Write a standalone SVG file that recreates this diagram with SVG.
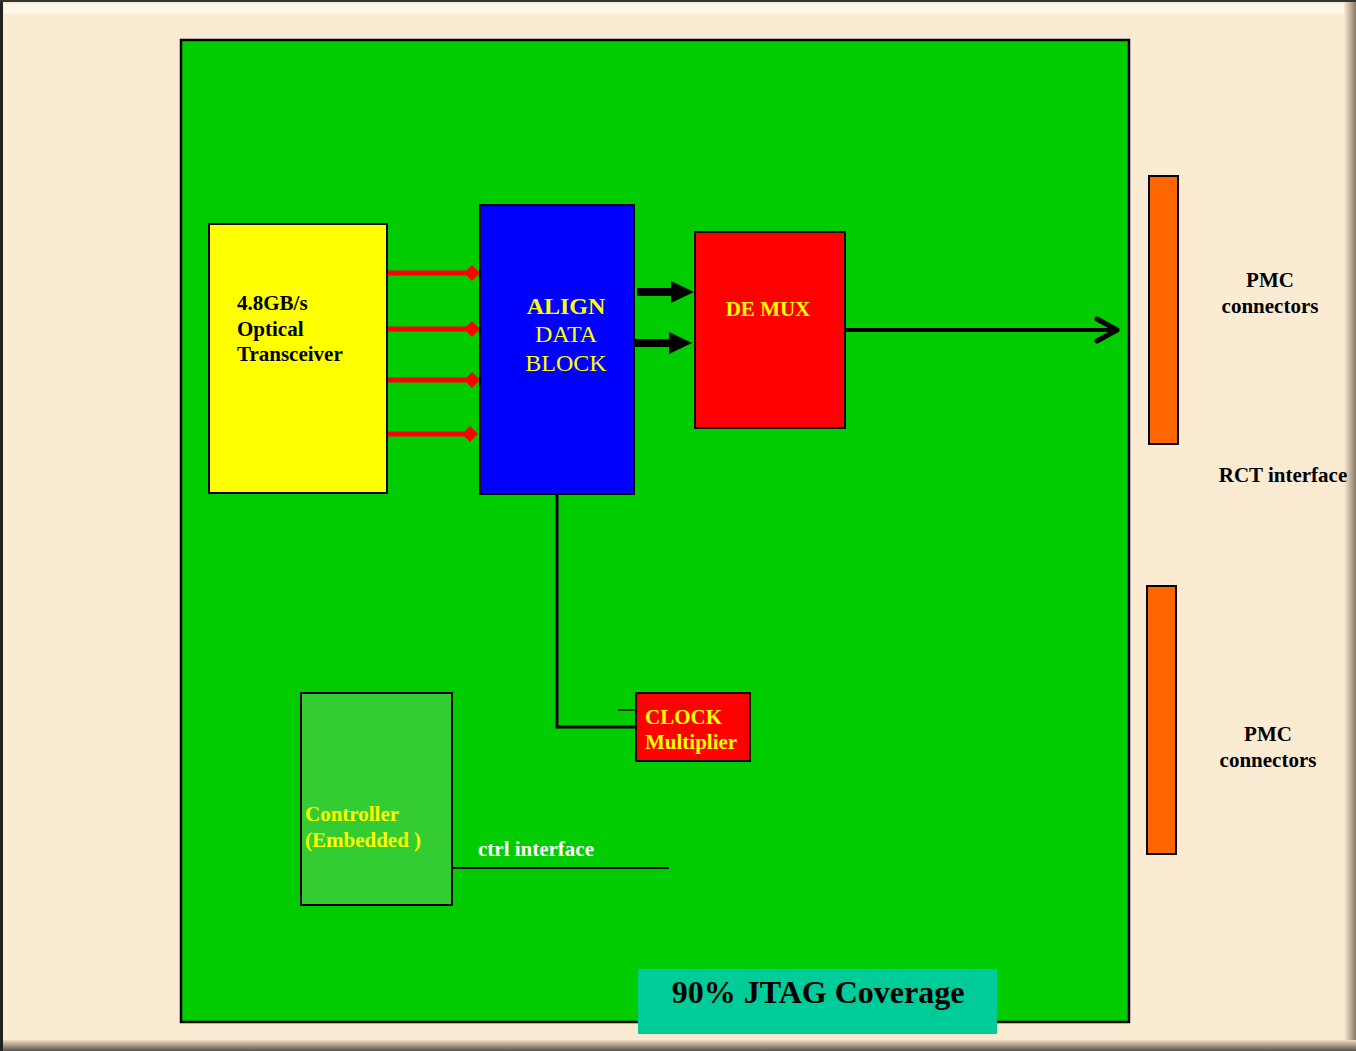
<svg xmlns="http://www.w3.org/2000/svg" width="1356" height="1051" viewBox="0 0 1356 1051">
<defs>
<style>
.b{font-family:"Liberation Serif","Times New Roman",serif;font-weight:bold;font-size:21px}
.n{font-family:"Liberation Serif","Times New Roman",serif;font-size:24px}
.box{stroke:#000;stroke-width:2}
.red{stroke:#FF0000;stroke-width:5;fill:none}
</style>
<linearGradient id="rg" x1="0" x2="1" y1="0" y2="0"><stop offset="0" stop-color="#FCEBD3"/><stop offset="1" stop-color="#8a7a66"/></linearGradient>
<linearGradient id="bg" x1="0" x2="0" y1="0" y2="1"><stop offset="0" stop-color="#F3D9BC"/><stop offset="1" stop-color="#555"/></linearGradient>
</defs>
<rect x="0" y="0" width="1356" height="1051" fill="#FCEBD3"/>
<rect x="4" y="4" width="1346" height="10" fill="#FFF6EA"/>
<rect x="1344" y="0" width="12" height="1051" fill="url(#rg)"/>
<rect x="0" y="1040" width="1356" height="11" fill="url(#bg)"/>
<rect x="0" y="0" width="3" height="1051" fill="#222"/>
<rect x="0" y="0" width="1356" height="2" fill="#333"/>
<g id="board"><rect x="181" y="40" width="948" height="982" fill="#00CC00" stroke="#000" stroke-width="2.5"/></g>
<g id="connectors">
<g fill="#FF0000">
<line x1="387" y1="273" x2="470" y2="273" class="red"/><polygon points="464,273 472,265 480,273 472,281"/>
<line x1="387" y1="329" x2="470" y2="329" class="red"/><polygon points="464,329 472,321 480,329 472,337"/>
<line x1="387" y1="380" x2="470" y2="380" class="red"/><polygon points="464,380 472,372 480,380 472,388"/>
<line x1="384" y1="434" x2="468" y2="434" class="red"/><polygon points="462,434 470,426 478,434 470,442"/>
</g>
<g fill="#000">
<polygon points="637,288 671,288 671,281 694,292 671,303 671,296 637,296"/>
<polygon points="634,339 669,339 669,332 692,343 669,354 669,347 634,347"/>
</g>
<line x1="845" y1="330" x2="1116" y2="330" stroke="#000" stroke-width="4"/>
<polyline points="1097,319 1117,330 1097,341" fill="none" stroke="#000" stroke-width="5" stroke-linecap="round" stroke-linejoin="round"/>
<polyline points="557,494 557,727 636,727" fill="none" stroke="#000" stroke-width="3"/>
<line x1="618" y1="710" x2="636" y2="710" stroke="#000" stroke-width="1.5"/>
<line x1="452" y1="868" x2="669" y2="868" stroke="#000" stroke-width="2"/>
</g>
<g id="transceiver"><rect x="209" y="224" width="178" height="269" fill="#FFFF00" class="box"/>
<text class="b" x="237" y="310">4.8GB/s</text><text class="b" x="237" y="336">Optical</text><text class="b" x="237" y="361">Transceiver</text></g>
<g id="align"><rect x="480" y="205" width="154" height="289" fill="#0000FF" class="box"/>
<text class="n" x="566" y="314" text-anchor="middle" fill="#FFFF00" font-weight="bold">ALIGN</text>
<text class="n" x="566" y="342" text-anchor="middle" fill="#FFFF00">DATA</text>
<text class="n" x="566" y="371" text-anchor="middle" fill="#FFFF00">BLOCK</text></g>
<g id="demux"><rect x="695" y="232" width="150" height="196" fill="#FF0000" class="box"/>
<text class="b" x="768" y="316" text-anchor="middle" fill="#FFFF00">DE MUX</text></g>
<g id="clock"><rect x="636" y="693" width="114" height="68" fill="#FF0000" class="box"/>
<text class="b" x="645" y="724" fill="#FFFF00">CLOCK</text><text class="b" x="645" y="749" fill="#FFFF00">Multiplier</text></g>
<g id="controller"><rect x="301" y="693" width="151" height="212" fill="#33CC33" class="box"/>
<text class="b" x="305" y="821" fill="#FFFF00">Controller</text><text class="b" x="305" y="847" fill="#FFFF00">(Embedded )</text></g>
<g id="ctrl-label"><text class="b" x="478" y="856" fill="#FFFFFF">ctrl interface</text></g>
<g id="jtag"><rect x="638" y="969" width="359" height="65" fill="#00CC99"/>
<text class="b" x="818" y="1003" text-anchor="middle" style="font-size:32px">90% JTAG Coverage</text></g>
<g id="pmc1"><rect x="1149" y="176" width="29" height="268" fill="#FF6600" class="box"/>
<text class="b" x="1270" y="287" text-anchor="middle">PMC</text><text class="b" x="1270" y="313" text-anchor="middle">connectors</text></g>
<g id="rct"><text class="b" x="1283" y="482" text-anchor="middle">RCT interface</text></g>
<g id="pmc2"><rect x="1147" y="586" width="29" height="268" fill="#FF6600" class="box"/>
<text class="b" x="1268" y="741" text-anchor="middle">PMC</text><text class="b" x="1268" y="767" text-anchor="middle">connectors</text></g>
</svg>
